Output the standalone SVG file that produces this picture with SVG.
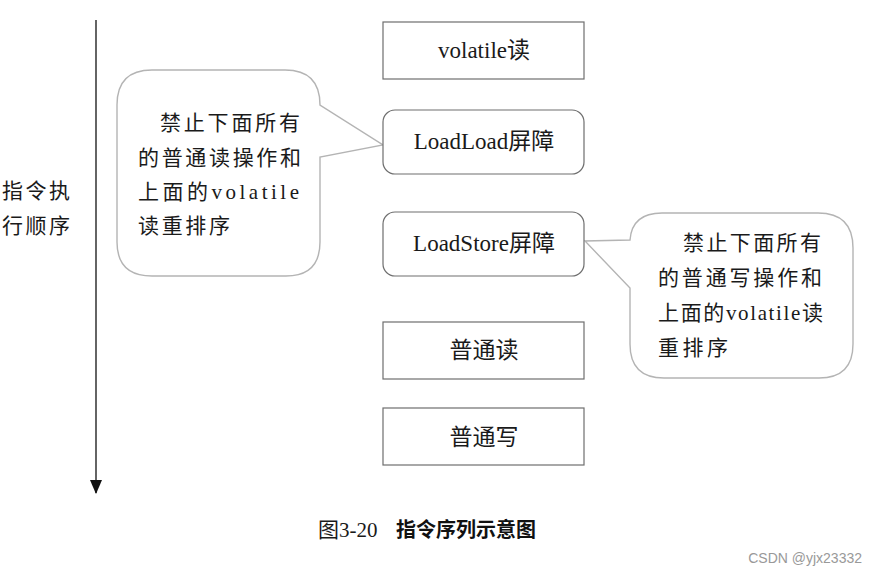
<svg xmlns="http://www.w3.org/2000/svg" width="877" height="575" viewBox="0 0 877 575">
<style>
.box{fill:#fff;stroke:#6e6e6e;stroke-width:1.2}
.call{fill:#fff;stroke:#b4b4b4;stroke-width:1.4}
.t{font-family:"Liberation Serif","Noto Sans CJK SC",serif;font-size:21px;fill:#1a1a1a}
.b{font-size:23px}
.c{text-anchor:middle}
</style>
<defs>
<marker id="ah" markerWidth="14" markerHeight="12" refX="13" refY="6" orient="auto" markerUnits="userSpaceOnUse">
<path d="M0,0 L14,6 L0,12 Z" fill="#111"/>
</marker>
</defs>
<rect width="877" height="575" fill="#fff"/>
<g id="connectors">
<line x1="96" y1="20" x2="96" y2="493" stroke="#111" stroke-width="1.3" marker-end="url(#ah)"/>
</g>
<g id="axis-label">
<text class="t" x="2" y="198" textLength="68">指令执</text>
<text class="t" x="2" y="233" textLength="68">行顺序</text>
</g>
<g id="callout-left">
<path class="call" d="M152,70 H285 Q320,70 320,105 L383,145 L320,157 V242 Q320,276 286,276 H152 Q117,276 117,242 V105 Q117,70 152,70 Z"/>
<text class="t" x="160" y="130" textLength="140">禁止下面所有</text>
<text class="t" x="138" y="165" textLength="163">的普通读操作和</text>
<text class="t" x="138" y="199" textLength="161">上面的volatile</text>
<text class="t" x="138" y="233" textLength="92">读重排序</text>
</g>
<g id="callout-right">
<path class="call" d="M662,213 H818 Q853,213 853,248 V344 Q853,378 819,378 H664 Q630,378 630,344 V288 L585,241 L630,240 Q632,213 662,213 Z"/>
<text class="t" x="683" y="250" textLength="138">禁止下面所有</text>
<text class="t" x="658" y="285" textLength="164">的普通写操作和</text>
<text class="t" x="658" y="320" textLength="165">上面的volatile读</text>
<text class="t" x="658" y="355" textLength="70">重排序</text>
</g>
<g id="n1">
<rect class="box" x="383" y="22" width="201" height="57"/>
<text class="t b c" x="484" y="58">volatile读</text>
</g>
<g id="n2">
<rect class="box" x="383" y="110" width="201" height="64" rx="12"/>
<text class="t b c" x="484" y="149">LoadLoad屏障</text>
</g>
<g id="n3">
<rect class="box" x="383" y="212" width="201" height="64" rx="12"/>
<text class="t b c" x="484" y="251">LoadStore屏障</text>
</g>
<g id="n4">
<rect class="box" x="383" y="322" width="201" height="57"/>
<text class="t b c" x="484" y="358">普通读</text>
</g>
<g id="n5">
<rect class="box" x="383" y="408" width="201" height="57"/>
<text class="t b c" x="484" y="445">普通写</text>
</g>
<g id="caption">
<text class="t" x="318" y="537" font-size="20">图3-20</text>
<text x="396" y="537" font-family="Noto Sans CJK SC,sans-serif" font-size="20" font-weight="bold" fill="#111">指令序列示意图</text>
<text x="862" y="563" text-anchor="end" font-family="Liberation Sans,Arial,sans-serif" font-size="14" fill="#999">CSDN @yjx23332</text>
</g>
</svg>
